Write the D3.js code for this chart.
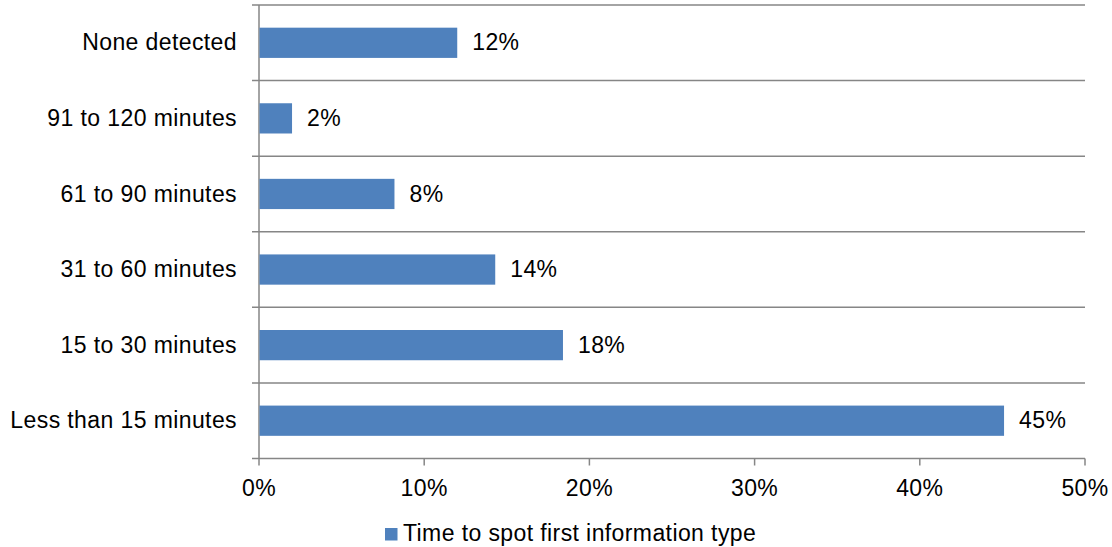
<!DOCTYPE html>
<html>
<head>
<meta charset="utf-8">
<script src="https://cdn.jsdelivr.net/npm/d3@7"></script>
<style>
  html, body { margin: 0; padding: 0; background: #fff; }
  svg { display: block; font-family: "Liberation Sans", Arial, sans-serif; }
  svg text { font-size: 23px; letter-spacing: 0.4px; fill: #000; }
</style>
</head>
<body>
<svg id="chart" width="1112" height="547"></svg>
<script>
// Categories from bottom to top of the chart
const categories = ["Less than 15 minutes", "15 to 30 minutes", "31 to 60 minutes", "61 to 90 minutes", "91 to 120 minutes", "None detected"];
const values = [45.1, 18.4, 14.3, 8.2, 2.0, 12.0];
const xTicks = [0, 10, 20, 30, 40, 50];
const seriesName = "Time to spot first information type";

const svg = d3.select("#chart");
const plotLeft = 259, plotRight = 1085, plotTop = 5, plotBottom = 458.5;
const gridColor = "#868686";
const barColor = "#4F81BD";

const x = d3.scaleLinear().domain([0, 50]).range([plotLeft, plotRight]);
const y = d3.scaleBand().domain(categories.slice().reverse()).range([plotTop, plotBottom]).paddingInner(0.6).paddingOuter(0.3);

// Horizontal separators between categories (band edges)
const edges = categories.map((c, i) => plotTop + i * (plotBottom - plotTop) / categories.length).concat([plotBottom]);
svg.append("g").selectAll("line").data(edges).join("line")
  .attr("x1", plotLeft - 7).attr("x2", plotRight)
  .attr("y1", d => d).attr("y2", d => d)
  .attr("stroke", gridColor).attr("stroke-width", 1.5);

// Vertical axis
svg.append("line").attr("x1", plotLeft).attr("x2", plotLeft).attr("y1", plotTop).attr("y2", plotBottom)
  .attr("stroke", gridColor).attr("stroke-width", 1.5);

// Bottom tick marks
svg.append("g").selectAll("line").data(xTicks).join("line")
  .attr("x1", d => x(d)).attr("x2", d => x(d))
  .attr("y1", plotBottom).attr("y2", plotBottom + 7)
  .attr("stroke", gridColor).attr("stroke-width", 1.5);

// Tick labels
svg.append("g").selectAll("text").data(xTicks).join("text")
  .attr("x", d => x(d)).attr("y", 496)
  .attr("text-anchor", "middle")
  .text(d => d + "%");

// Category labels
svg.append("g").selectAll("text").data(categories).join("text")
  .attr("x", 237).attr("y", d => y(d) + y.bandwidth() / 2)
  .attr("dy", "0.335em")
  .attr("text-anchor", "end")
  .text(d => d);

// Bars
svg.append("g").selectAll("rect").data(categories).join("rect")
  .attr("x", x(0) + 0.5)
  .attr("y", d => y(d))
  .attr("width", (d, i) => x(values[i]) - x(0) - 0.5)
  .attr("height", y.bandwidth())
  .attr("fill", barColor);

// Value labels
const fmt = d3.format(".0f");
svg.append("g").selectAll("text").data(categories).join("text")
  .attr("x", (d, i) => x(values[i]) + 15)
  .attr("y", d => y(d) + y.bandwidth() / 2)
  .attr("dy", "0.335em")
  .text((d, i) => fmt(values[i]) + "%");

// Legend
const legend = svg.append("g");
legend.append("rect").attr("x", 385).attr("y", 528).attr("width", 12.5).attr("height", 12.5).attr("fill", barColor);
legend.append("text").attr("x", 403).attr("y", 541).text(seriesName);
</script>
</body>
</html>
